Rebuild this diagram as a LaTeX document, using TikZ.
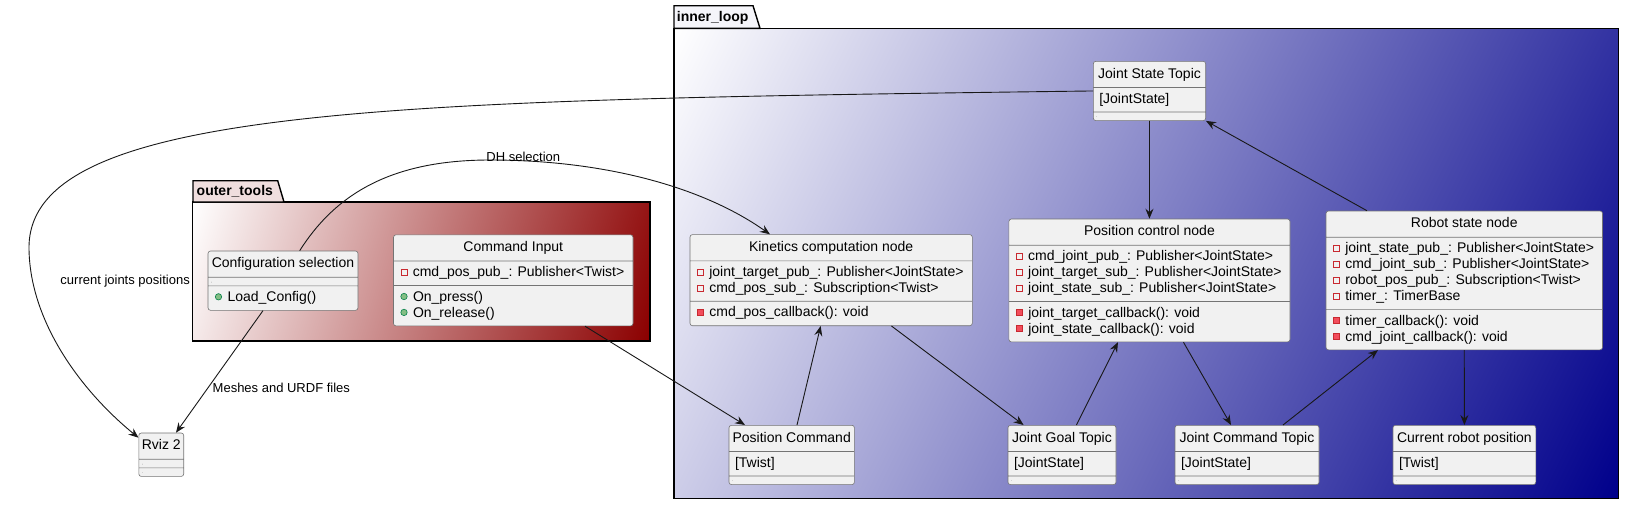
\documentclass[tikz,border=0pt]{standalone}
\usepackage{fontspec}
\setmainfont{Liberation Sans}
\usepackage{tikz}
\usetikzlibrary{arrows.meta,positioning,shapes.multipart}

\definecolor{umlfill}{HTML}{F1F1F1}
\definecolor{umlline}{HTML}{181818}
\definecolor{loopend}{HTML}{00008B}
\definecolor{toolend}{HTML}{8B0000}
\definecolor{privline}{HTML}{C82930}
\definecolor{privfill}{HTML}{F24D5C}
\definecolor{publine}{HTML}{038048}
\definecolor{pubfill}{HTML}{84BE84}

\newcommand{\lnstrut}{\rule[-4.5pt]{0pt}{15.9pt}}
\newcommand{\ttl}[1]{\rule[-5.1pt]{0pt}{17.6pt}#1}
\newcommand{\norow}{\rule{0.01pt}{0.01pt}}
\newcommand{\typ}[1]{\hbox{\lnstrut\hspace{3pt}#1}}
\newcommand{\fld}[1]{\hbox{\lnstrut\hspace{4pt}\tikz[baseline=-1.5pt]\draw[sharp corners,privline,line width=0.8pt] (0pt,0pt) rectangle (6pt,6pt);\hspace{5.5pt}#1}}
\newcommand{\mprv}[1]{\hbox{\lnstrut\hspace{4pt}\tikz[baseline=-1.5pt]\filldraw[sharp corners,draw=privline,fill=privfill,line width=0.6pt] (0pt,0pt) rectangle (6.3pt,6.3pt);\hspace{5.5pt}#1}}
\newcommand{\mpub}[1]{\hbox{\lnstrut\hspace{4pt}\tikz[baseline=-1.5pt]\filldraw[draw=publine,fill=pubfill,line width=0.6pt] (3.2pt,3.2pt) circle (3.2pt);\hspace{5.5pt}#1}}

\begin{document}
\begin{tikzpicture}[x=1pt, y=-1pt,
  cls/.style={rectangle split, rectangle split parts=3, draw=umlline!60, line width=0.6pt,
    fill=umlfill, rounded corners=2.5pt, inner xsep=3pt, inner ysep=4pt,
    rectangle split part align={center,left,left},
    anchor=north, font=\fontsize{14pt}{15.9pt}\selectfont},
  pkgline/.style={draw=black, line width=1.4pt},
  pkgname/.style={font=\bfseries\fontsize{14pt}{16pt}\selectfont, anchor=base west, inner sep=0pt},
  lbl/.style={font=\fontsize{13pt}{15pt}\selectfont, inner sep=0pt},
  arrow/.style={-{Stealth[length=10pt,width=8pt,inset=3.5pt]}, draw=umlline, line width=0.9pt}
]
\useasboundingbox (0,0) rectangle (1634,504);

% packages
\begin{scope}
  \clip (674,28.3) rectangle (1618.5,498.3);
  \shade[top color=white, bottom color=loopend, shading angle=63.54] (618.75,-264.2) rectangle (1673.75,790.8);
\end{scope}
\draw[pkgline] (674,28.3) rectangle (1618.5,498.3);
\filldraw[pkgline, fill=loopend!4] (674,28.3) -- (674,5.7) -- (753,5.7) -- (760,28.3) -- cycle;
\node[pkgname] (innername) at (676.7,21.3) {inner\_loop};

\begin{scope}
  \clip (192.5,202) rectangle (650,341);
  \shade[top color=white, bottom color=toolend, shading angle=73.1] (182.15,32.4) rectangle (660.35,510.6);
\end{scope}
\draw[pkgline] (192.5,202) rectangle (650,341);
\filldraw[pkgline, fill=toolend!13] (193,202) -- (193,180.7) -- (277.7,180.7) -- (284,202) -- cycle;
\node[pkgname] (outername) at (196.5,195) {outer\_tools};

% classes
\node[cls, minimum width=112.4pt] (jst) at (1149.5,61) {\ttl{Joint State Topic}
  \nodepart{two}\typ{[JointState]}
  \nodepart{three}\norow};
\node[cls, minimum width=282.3pt] (kin) at (831.15,234.3) {\ttl{Kinetics computation node}
  \nodepart{two}\vbox{\fld{joint\_target\_pub\_: Publisher<JointState>}\fld{cmd\_pos\_sub\_: Subscription<Twist>}}
  \nodepart{three}\mprv{cmd\_pos\_callback(): void}};
\node[cls, minimum width=281.1pt] (pcn) at (1149.45,218.7) {\ttl{Position control node}
  \nodepart{two}\vbox{\fld{cmd\_joint\_pub\_: Publisher<JointState>}\fld{joint\_target\_sub\_: Publisher<JointState>}\fld{joint\_state\_sub\_: Publisher<JointState>}}
  \nodepart{three}\vbox{\mprv{joint\_target\_callback(): void}\mprv{joint\_state\_callback(): void}}};
\node[cls, minimum width=276.5pt] (rsn) at (1464.25,210.7) {\ttl{Robot state node}
  \nodepart{two}\vbox{\fld{joint\_state\_pub\_: Publisher<JointState>}\fld{cmd\_joint\_sub\_: Publisher<JointState>}\fld{robot\_pos\_pub\_: Subscription<Twist>}\fld{timer\_: TimerBase}}
  \nodepart{three}\vbox{\mprv{timer\_callback(): void}\mprv{cmd\_joint\_callback(): void}}};
\node[cls, minimum width=150pt] (cfg) at (283,250.7) {\ttl{Configuration selection}
  \nodepart{two}\norow
  \nodepart{three}\mpub{Load\_Config()}};
\node[cls, minimum width=239.5pt] (cin) at (513.25,234.5) {\ttl{Command Input}
  \nodepart{two}\fld{cmd\_pos\_pub\_: Publisher<Twist>}
  \nodepart{three}\vbox{\mpub{On\_press()}\mpub{On\_release()}}};
\node[cls, minimum width=44.5pt] (rviz) at (161.25,432.7) {\ttl{Rviz 2}
  \nodepart{two}\norow
  \nodepart{three}\norow};
\node[cls, minimum width=125.4pt] (pcmd) at (791.7,425) {\ttl{Position Command}
  \nodepart{two}\typ{[Twist]}
  \nodepart{three}\norow};
\node[cls, minimum width=108pt] (jgt) at (1062,425) {\ttl{Joint Goal Topic}
  \nodepart{two}\typ{[JointState]}
  \nodepart{three}\norow};
\node[cls, minimum width=144pt] (jct) at (1247,425) {\ttl{Joint Command Topic}
  \nodepart{two}\typ{[JointState]}
  \nodepart{three}\norow};
\node[cls, minimum width=142.8pt] (crp) at (1464.4,425) {\ttl{Current robot position}
  \nodepart{two}\typ{[Twist]}
  \nodepart{three}\norow};

% links
\draw[arrow] (jst.west) .. controls (400,100) and (30,105) .. (29,247)
  .. controls (29,320) and (80,390) .. ([yshift=-5pt]rviz.north west);
\node[lbl, anchor=base east] (lblcur) at (190,284) {current joints positions};
\draw[arrow] ([xshift=16.7pt]cfg.north) .. controls (335,195) and (390,160) .. (490,160)
  .. controls (600,160) and (700,185) .. ([xshift=-61.2pt]kin.north);
\node[lbl, anchor=base] (lbldh) at (523.3,161.7) {DH selection};
\draw[arrow] ([xshift=-20pt]cfg.south) -- ([xshift=14.75pt]rviz.north);
\node[lbl, anchor=base west] (lblmesh) at (212.5,392.3) {Meshes and URDF files};
\draw[arrow] ([xshift=71.75pt]cin.south) -- ([xshift=-46.7pt]pcmd.north);
\draw[arrow] ([xshift=5.3pt]pcmd.north) -- ([xshift=-10.5pt]kin.south);
\draw[arrow] ([xshift=60.3pt]kin.south) -- ([xshift=-38.4pt]jgt.north);
\draw[arrow] ([xshift=14.4pt]jgt.north) -- ([xshift=-31.5pt]pcn.south);
\draw[arrow] ([xshift=34pt]pcn.south) -- ([xshift=-16pt]jct.north);
\draw[arrow] ([xshift=36pt]jct.north) -- ([xshift=-86.3pt]rsn.south);
\draw[arrow] (rsn.south) -- (crp.north);
\draw[arrow] ([xshift=-97.3pt]rsn.north) -- (jst.south east);
\draw[arrow] (jst.south) -- (pcn.north);
\end{tikzpicture}
\end{document}
